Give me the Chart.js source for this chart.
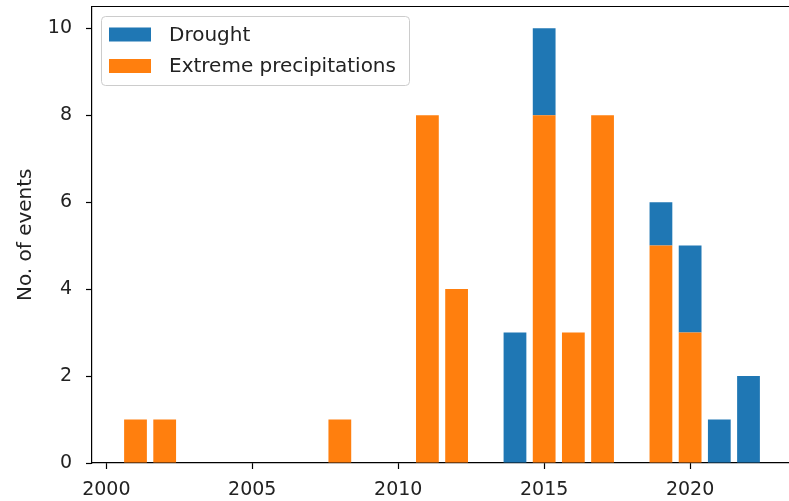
<!DOCTYPE html>
<html>
<head>
<meta charset="utf-8">
<script src="https://cdn.jsdelivr.net/npm/chart.js@4/dist/chart.umd.min.js"></script>
<style>
  html, body { margin: 0; padding: 0; background: #fff; overflow: hidden; }
  canvas { display: block; }
</style>
</head>
<body>
<canvas id="c" width="795" height="501"></canvas>
<script>
// Events per year, by type
const extremeYears  = [2001, 2002, 2008, 2011, 2012, 2015, 2016, 2017, 2019, 2020];
const extremeCounts = [1, 1, 1, 8, 4, 8, 3, 8, 5, 3];
const droughtYears  = [2014, 2015, 2019, 2020, 2021, 2022];
const droughtCounts = [3, 2, 1, 2, 1, 2];

const xTicks = [2000, 2005, 2010, 2015, 2020];
const yTicks = [0, 2, 4, 6, 8, 10];

const seriesNames = ['Drought', 'Extreme precipitations'];
const BLUE = '#1f77b4';
const ORANGE = '#ff7f0e';
const FONT = '"DejaVu Sans", sans-serif';

const toPoints = (xs, ys) => xs.map((x, i) => ({ x: x, y: ys[i] }));

// axes frame: top spine (left/bottom come from the scale borders)
const framePlugin = {
  id: 'frame',
  afterDraw(chart) {
    const { ctx, chartArea: a } = chart;
    ctx.save();
    ctx.strokeStyle = '#000';
    ctx.lineWidth = 1.2;
    ctx.beginPath();
    ctx.moveTo(a.left - 0.6, a.top);
    ctx.lineTo(a.right + 1, a.top);
    ctx.stroke();
    ctx.restore();
  }
};

// legend box in the upper-left corner of the axes
const legendPlugin = {
  id: 'boxLegend',
  afterDraw(chart) {
    const { ctx } = chart;
    const x = 101.5, y = 16.5, w = 308, h = 69, r = 4;
    ctx.save();
    ctx.beginPath();
    ctx.moveTo(x + r, y);
    ctx.lineTo(x + w - r, y);
    ctx.arcTo(x + w, y, x + w, y + r, r);
    ctx.lineTo(x + w, y + h - r);
    ctx.arcTo(x + w, y + h, x + w - r, y + h, r);
    ctx.lineTo(x + r, y + h);
    ctx.arcTo(x, y + h, x, y + h - r, r);
    ctx.lineTo(x, y + r);
    ctx.arcTo(x, y, x + r, y, r);
    ctx.closePath();
    ctx.fillStyle = 'rgba(255,255,255,0.8)';
    ctx.fill();
    ctx.strokeStyle = '#cccccc';
    ctx.lineWidth = 1;
    ctx.stroke();

    const colors = [BLUE, ORANGE];
    const rows = [34.5, 66];
    ctx.font = '20px ' + FONT;
    ctx.textBaseline = 'middle';
    ctx.textAlign = 'left';
    seriesNames.forEach((name, i) => {
      ctx.fillStyle = colors[i];
      ctx.fillRect(109, rows[i] - 7, 42, 14);
      ctx.fillStyle = '#222';
      ctx.fillText(name, 169, rows[i] + 1);
    });
    ctx.restore();
  }
};

const noPad = scale => {
  scale.paddingTop = 0;
  scale.paddingBottom = 0;
  scale.paddingLeft = 0;
  scale.paddingRight = 0;
};

new Chart(document.getElementById('c'), {
  type: 'bar',
  data: {
    datasets: [
      {
        label: seriesNames[1],
        data: toPoints(extremeYears, extremeCounts),
        backgroundColor: ORANGE,
        borderWidth: 0
      },
      {
        label: seriesNames[0],
        data: toPoints(droughtYears, droughtCounts),
        backgroundColor: BLUE,
        borderWidth: 0
      }
    ]
  },
  options: {
    responsive: false,
    animation: false,
    devicePixelRatio: 1,
    barPercentage: 0.78,
    categoryPercentage: 1,
    layout: { padding: { left: 0, top: 6.5, right: 3, bottom: 0 } },
    plugins: {
      legend: { display: false },
      tooltip: { enabled: false }
    },
    scales: {
      x: {
        type: 'linear',
        stacked: true,
        offset: false,
        min: 1999.51,
        max: 2023.49,
        afterBuildTicks(scale) { scale.ticks = xTicks.map(v => ({ value: v })); },
        afterFit(scale) { scale.height = 38; noPad(scale); },
        ticks: {
          callback: v => String(v),
          font: { family: FONT, size: 19 },
          color: '#222',
          padding: 10,
          maxRotation: 0,
          autoSkip: false
        },
        grid: {
          display: true,
          offset: false,
          drawOnChartArea: false,
          drawTicks: true,
          tickLength: 6,
          tickColor: '#000',
          tickWidth: 1.2
        },
        border: { display: true, color: '#000', width: 1.2 }
      },
      y: {
        stacked: true,
        min: 0,
        max: 10.5,
        afterBuildTicks(scale) { scale.ticks = yTicks.map(v => ({ value: v })); },
        afterFit(scale) { scale.width = 92; noPad(scale); },
        ticks: {
          font: { family: FONT, size: 19 },
          color: '#222',
          padding: 14
        },
        grid: {
          display: true,
          drawOnChartArea: false,
          drawTicks: true,
          tickLength: 6,
          tickColor: '#000',
          tickWidth: 1.2
        },
        border: { display: true, color: '#000', width: 1.2 },
        title: {
          display: true,
          text: 'No. of events',
          font: { family: FONT, size: 20 },
          color: '#222',
          padding: { top: 14, bottom: 0 }
        }
      }
    }
  },
  plugins: [framePlugin, legendPlugin]
});
</script>
</body>
</html>
